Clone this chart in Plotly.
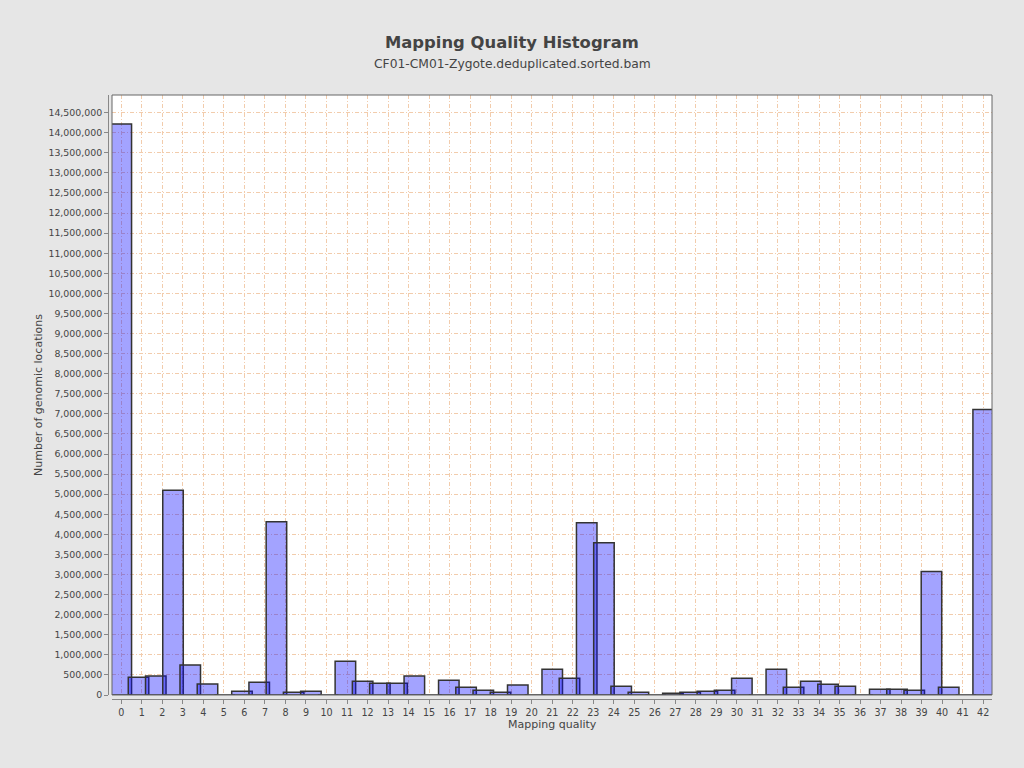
import plotly.graph_objects as go

# ---- data ----
quality_max = 42          # highest mapping quality
bin_count = 50            # histogram bins over [0, quality_max]
bin_values = [
    14220000, 440000, 473000, 5100000, 746000, 274000, 0, 92000, 316000, 4316000,
    67000, 92000, 0, 838000, 340000, 291000, 291000, 473000, 0, 366000,
    191000, 117000, 67000, 249000, 0, 640000, 415000, 4290000, 3790000, 216000,
    67000, 0, 42000, 70000, 92000, 117000, 415000, 0, 640000, 191000,
    340000, 266000, 216000, 0, 141000, 141000, 117000, 3077000, 191000, 0,
    7107000,
]
bin_centers = [k * quality_max / bin_count for k in range(len(bin_values))]
x_ticks = list(range(0, 43))
y_ticks = list(range(0, 15000000, 500000))

title_text = "Mapping Quality Histogram"
subtitle_text = "CF01-CM01-Zygote.deduplicated.sorted.bam"
x_title = "Mapping quality"
y_title = "Number of genomic locations"

# ---- figure ----
FONT = "DejaVu Sans"
TXT = "#444444"
GRID = "rgb(242,204,172)"
W, H = 1024, 768
ml, mr, mt, mb = 108, 32, 95, 69
pw, ph = W - ml - mr, H - mt - mb

fig = go.Figure()
fig.add_trace(go.Bar(
    x=bin_centers, y=bin_values, width=1.0,
    marker=dict(color="rgba(0,0,255,0.36)", line=dict(color="#333333", width=1.5)),
    hoverinfo="skip", showlegend=False,
))

fig.update_layout(
    width=W, height=H,
    margin=dict(l=ml, r=mr, t=mt, b=mb, pad=0),
    paper_bgcolor="#E6E6E6", plot_bgcolor="white",
    font=dict(family=FONT, size=10, color=TXT),
    xaxis=dict(
        domain=[4 / pw, 1], anchor="free", position=0,
        range=[-0.453, 42.43], tickmode="array", tickvals=x_ticks,
        showline=True, linecolor="#888888", linewidth=1,
        ticks="outside", ticklen=4, tickcolor="#888888",
        showgrid=True, gridcolor=GRID, griddash="4px,2px,1px,2px", gridwidth=1,
        zeroline=False, tickfont=dict(size=9.6, color=TXT),
    ),
    yaxis=dict(
        domain=[4 / ph, 1], anchor="free", position=0,
        range=[0, 14.94e6], tickmode="array", tickvals=y_ticks, tickformat=",d",
        showline=True, linecolor="#888888", linewidth=1,
        ticks="outside", ticklen=4, tickcolor="#888888",
        showgrid=True, gridcolor=GRID, griddash="4px,2px,1px,2px", gridwidth=1,
        zeroline=False, tickfont=dict(size=9.4, color=TXT),
    ),
    shapes=[dict(type="rect", xref="x domain", yref="y domain", x0=0, x1=1, y0=0, y1=1,
                 line=dict(color="#666666", width=1), layer="above")],
    annotations=[
        dict(text="<b>" + title_text + "</b>", xref="paper", yref="paper",
             x=(512 - ml) / pw, y=(H - mb - 42) / ph, xanchor="center", yanchor="middle",
             showarrow=False, font=dict(size=16.4, color=TXT, family=FONT)),
        dict(text=subtitle_text, xref="paper", yref="paper",
             x=(512 - ml) / pw, y=(H - mb - 64) / ph, xanchor="center", yanchor="middle",
             showarrow=False, font=dict(size=12.3, color=TXT, family=FONT)),
        dict(text=x_title, xref="paper", yref="paper",
             x=(552 - ml) / pw, y=(H - mb - 724) / ph, xanchor="center", yanchor="middle",
             showarrow=False, font=dict(size=11, color=TXT, family=FONT)),
        dict(text=y_title, xref="paper", yref="paper", textangle=-90,
             x=(38 - ml) / pw, y=(H - mb - 395) / ph, xanchor="center", yanchor="middle",
             showarrow=False, font=dict(size=11, color=TXT, family=FONT)),
    ],
)

fig.write_html(
    "out.html",
    config={"displayModeBar": False},
    post_script="document.body.style.margin='0';document.body.style.padding='0';"
                "document.body.style.overflow='hidden';",
)
